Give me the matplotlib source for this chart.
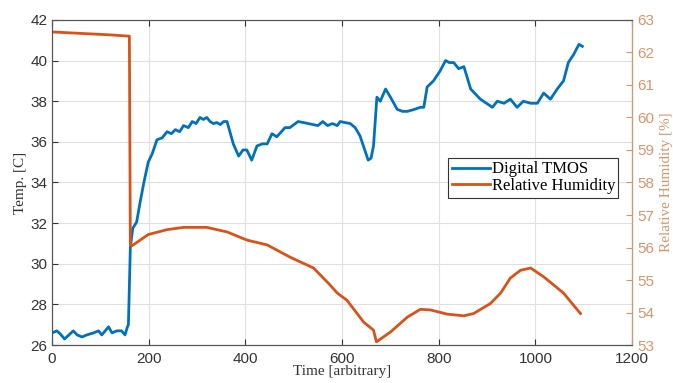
import matplotlib.pyplot as plt

# Digital TMOS temperature (left axis)
t_time = [0, 10, 17, 26, 35, 44, 52, 62, 72, 86, 96, 103, 117, 124, 134, 144, 151, 156, 158,
          162, 167, 175, 182, 190, 199, 207, 217, 228, 238, 247, 255, 264, 272, 282, 290, 298,
          306, 313, 320, 327, 334, 341, 348, 355, 362,
          375, 386, 395, 403, 413, 424, 435, 445, 455, 465, 482, 492, 509, 520, 530, 540, 550,
          560, 570, 580, 590, 596, 606, 617, 627, 637,
          654, 660, 665, 672, 679, 690, 700, 714, 725, 735, 750, 762, 769, 776, 789, 803, 814,
          822, 831, 841, 852, 866, 886, 911, 921, 935, 948, 962, 975, 990, 1004, 1017, 1031,
          1045, 1058, 1068, 1079, 1090, 1097]
temp = [26.6, 26.7, 26.55, 26.3, 26.5, 26.7, 26.5, 26.4, 26.5, 26.6, 26.7, 26.5, 26.9, 26.6, 26.7,
        26.7, 26.5, 26.9, 27.0,
        30.8, 31.75, 32.05, 33.0, 34.0, 35.0, 35.4, 36.1, 36.2, 36.5, 36.4, 36.6, 36.5, 36.8,
        36.7, 37.0, 36.9,
        37.2, 37.1, 37.2, 37.0, 36.9, 36.95, 36.85, 37.0, 37.0,
        35.9, 35.3, 35.6, 35.6, 35.1, 35.8, 35.9, 35.9, 36.4, 36.25, 36.7, 36.7, 37.0, 36.95,
        36.9, 36.85, 36.8, 37.0, 36.8, 36.9, 36.8, 37.0, 36.95, 36.9, 36.7, 36.3,
        35.1, 35.2, 35.8, 38.2, 38.0, 38.6, 38.2, 37.6, 37.5, 37.5, 37.6, 37.7, 37.7, 38.7, 39.0,
        39.5, 40.0, 39.9, 39.9,
        39.6, 39.7, 38.6, 38.1, 37.7, 38.0, 37.9, 38.1, 37.7, 38.0, 37.9, 37.9, 38.4, 38.1, 38.6,
        39.0,
        39.9, 40.3, 40.8, 40.7]

# Relative humidity (right axis)
h_time = [0, 40, 80, 120, 160, 162, 165, 199, 238, 272, 320, 362, 403, 445, 493, 541, 575, 590,
          610, 645, 665, 671, 700, 735, 762, 783, 818, 852, 872, 907, 928, 948, 969, 990, 1017,
          1058, 1093]
hum = [62.63, 62.6, 62.57, 62.54, 62.5, 56.1, 56.05, 56.4, 56.55, 56.62, 56.62, 56.48, 56.23,
       56.08, 55.7, 55.37, 54.85, 54.6, 54.38, 53.7, 53.46, 53.1, 53.4, 53.86, 54.1, 54.08, 53.95,
       53.9, 53.97, 54.28, 54.6, 55.06, 55.3, 55.37, 55.1, 54.6, 53.97]

blue = '#0072BD'
orange = '#D95319'
tan = '#D9956A'

fig = plt.figure(figsize=(6.73, 3.83), dpi=100)
ax = fig.add_axes([0.0773, 0.099, 0.862, 0.849])
ax2 = ax.twinx()

l1, = ax.plot(t_time, temp, color=blue, lw=2, label='Digital TMOS')
l2, = ax2.plot(h_time, hum, color=orange, lw=2, label='Relative Humidity')

ax.set_xlim(0, 1200)
ax.set_ylim(26, 42)
ax.set_xticks(range(0, 1201, 200))
ax.set_yticks(range(26, 43, 2))
ax2.set_ylim(53, 63)
ax2.set_yticks(range(53, 64))
ax.grid(True, color='#e0e0e0', lw=0.8)
ax.set_axisbelow(True)

for a in (ax, ax2):
    for s in a.spines.values():
        s.set_color('#555555')
        s.set_linewidth(0.8)
ax2.spines['right'].set_color(tan)
ax.tick_params(direction='in', labelsize=11, colors='#333333', length=4, top=True)
ax.tick_params(axis='x', pad=5)
ax2.tick_params(direction='in', labelsize=11, colors=tan, length=4)
for lab in ax.get_xticklabels() + ax.get_yticklabels() + ax2.get_yticklabels():
    lab.set_family('Liberation Sans')

ax.set_xlabel('Time [arbitrary]', family='Liberation Serif', fontsize=11, color='#333333', labelpad=-1)
ax.set_ylabel('Temp. [C]', family='Liberation Serif', fontsize=11, color='#333333', labelpad=2)
ax2.set_ylabel('Relative Humidity [%]', family='Liberation Serif', fontsize=11, color=tan, labelpad=4)

leg = ax2.legend(handles=[l1, l2], loc='upper left', bbox_to_anchor=(0.683, 0.575),
                 prop={'family': 'Liberation Serif', 'size': 12}, fancybox=False,
                 framealpha=1, edgecolor='#333333', borderpad=0.2, handlelength=2.3,
                 handletextpad=0.1, labelspacing=0.05, borderaxespad=0)
leg.get_frame().set_linewidth(0.8)

fig.savefig('out.png', dpi=100)
